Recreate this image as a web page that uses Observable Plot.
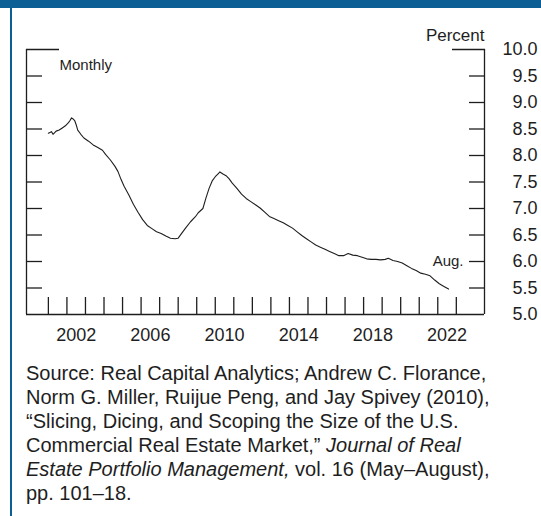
<!DOCTYPE html>
<html><head><meta charset="utf-8">
<script src="https://cdn.jsdelivr.net/npm/d3@7"></script>
<script src="https://cdn.jsdelivr.net/npm/@observablehq/plot@0.6"></script>
<style>
html,body{margin:0;padding:0;background:#fff;}
#wrap{position:relative;width:541px;height:516px;overflow:hidden;font-family:"Liberation Sans",Arial,sans-serif;}
#topbar{position:absolute;left:0;top:0;width:541px;height:8px;background:#0b5f94;}
#leftbar{position:absolute;left:10px;top:0;width:2px;height:516px;background:#0b5f94;}
#chart{position:absolute;left:0;top:0;}
#caption{position:absolute;left:26px;top:361px;font-size:20px;line-height:24px;color:#1e1e1e;white-space:nowrap;}
</style></head>
<body><div id="wrap"><div id="topbar"></div><div id="leftbar"></div><div id="chart"></div>
<div id="caption">Source: Real Capital Analytics; Andrew C. Florance,<br>Norm G. Miller, Ruijue Peng, and Jay Spivey (2010),<br>“Slicing, Dicing, and Scoping the Size of the U.S.<br>Commercial Real Estate Market,” <i>Journal of Real<br>Estate Portfolio Management,</i> vol. 16 (May–August),<br>pp. 101–18.</div></div>
<script>
const months = ["2001-01","2001-03","2001-04","2001-06","2001-08","2001-10","2001-12","2002-02","2002-03","2002-04","2002-05","2002-06","2002-07","2002-08","2002-10","2002-12",
"2003-03","2003-06","2003-09","2003-12","2004-02","2004-05","2004-08","2004-10","2004-12","2005-02","2005-05","2005-08","2005-11",
"2006-02","2006-05","2006-08","2006-11","2007-02","2007-05","2007-08","2007-11","2008-01","2008-03","2008-06","2008-09","2008-12",
"2009-02","2009-05","2009-07","2009-09","2009-11","2010-01","2010-03","2010-04","2010-06","2010-08","2010-10","2010-12",
"2011-03","2011-06","2011-09","2011-12","2012-03","2012-06","2012-09","2012-12","2013-03","2013-06","2013-09","2013-12",
"2014-03","2014-06","2014-09","2014-12","2015-03","2015-06","2015-09","2015-12","2016-03","2016-06","2016-09","2016-12",
"2017-03","2017-06","2017-09","2017-12","2018-03","2018-06","2018-09","2018-12","2019-03","2019-05","2019-08","2019-11",
"2020-02","2020-05","2020-08","2020-11","2021-02","2021-05","2021-08","2021-11","2022-02","2022-05","2022-08"];
const values = [8.42,8.45,8.40,8.46,8.48,8.52,8.56,8.62,8.66,8.71,8.69,8.66,8.58,8.48,8.40,8.33,
8.27,8.20,8.15,8.10,8.02,7.92,7.80,7.70,7.55,7.42,7.26,7.08,6.93,
6.79,6.68,6.62,6.56,6.53,6.48,6.44,6.43,6.44,6.52,6.64,6.75,6.84,
6.92,7.00,7.20,7.38,7.52,7.60,7.66,7.69,7.65,7.62,7.56,7.48,
7.38,7.27,7.19,7.13,7.07,7.01,6.93,6.85,6.81,6.77,6.73,6.68,
6.63,6.56,6.49,6.43,6.37,6.31,6.27,6.23,6.19,6.15,6.11,6.11,
6.15,6.12,6.11,6.08,6.05,6.04,6.04,6.03,6.04,6.06,6.02,6.00,
5.97,5.92,5.87,5.83,5.78,5.76,5.73,5.65,5.58,5.53,5.48];
const xDomain = [1999.82, 2024.52];
const yDomain = [5, 10];
const yearTicks = [2001,2002,2003,2004,2005,2006,2007,2008,2009,2010,2011,2012,2013,2014,2015,2016,2017,2018,2019,2020,2021,2022,2023];
const yearLabels = [2002,2006,2010,2014,2018,2022];
const yTicks = [5.5,6.0,6.5,7.0,7.5,8.0,8.5,9.0,9.5];
const yTop = [10.0];
const yLabels = [5.0,5.5,6.0,6.5,7.0,7.5,8.0,8.5,9.0,9.5,10.0];
const unitLabel = ["Percent"];
const freqLabel = ["Monthly"];
const endNote = [{label:"Aug.", v:6.0}];

const data = months.map((m,i)=>({t: +m.slice(0,4) + (+m.slice(5,7)-1)/12, v: values[i]}));
const ink = "#1e1e1e";
const noText = () => null;
const chart = Plot.plot({
  width:541, height:350, marginLeft:26, marginRight:57, marginTop:49, marginBottom:36,
  style:{fontFamily:'"Liberation Sans",Arial,sans-serif', fontSize:"18px", color:ink, background:"transparent", overflow:"visible"},
  x:{domain:xDomain, axis:null},
  y:{domain:yDomain, axis:null},
  marks:[
    Plot.ruleX(xDomain, {stroke:ink, strokeWidth:1.3}),
    Plot.ruleY([yDomain[0]], {stroke:ink, strokeWidth:1.3}),
    Plot.axisY(yTicks, {anchor:"left", tickSize:16, insetLeft:16, tickFormat:noText, label:null, stroke:ink, strokeWidth:1.3}),
    Plot.axisY(yTicks, {anchor:"right", tickSize:16, insetRight:16, tickFormat:noText, label:null, stroke:ink, strokeWidth:1.3}),
    Plot.axisY(yTop, {anchor:"left", tickSize:33, insetLeft:33, tickFormat:noText, label:null, stroke:ink, strokeWidth:1.3}),
    Plot.axisY(yTop, {anchor:"right", tickSize:33, insetRight:33, tickFormat:noText, label:null, stroke:ink, strokeWidth:1.3}),
    Plot.axisY(yLabels, {anchor:"right", tickSize:0, tickPadding:53, textAnchor:"end", tickFormat:d=>d.toFixed(1), label:null, fill:ink}),
    Plot.axisX(yearTicks, {anchor:"bottom", tickSize:17, insetBottom:17, tickFormat:noText, label:null, stroke:ink, strokeWidth:1.3}),
    Plot.axisX(yearLabels.map(y=>y+0.5), {anchor:"bottom", tickSize:0, tickPadding:21, lineAnchor:"middle", tickFormat:d=>String(Math.floor(d)), label:null, fill:ink}),
    Plot.line(data, {x:"t", y:"v", stroke:ink, strokeWidth:1.1}),
    Plot.text(unitLabel, {frameAnchor:"top-right", textAnchor:"end", lineAnchor:"middle", dy:-14, fontSize:17, fill:ink}),
    Plot.text(freqLabel, {frameAnchor:"top-left", textAnchor:"start", lineAnchor:"middle", dx:33, dy:16, fontSize:15, fill:ink}),
    Plot.text(endNote, {y:"v", text:"label", frameAnchor:"right", textAnchor:"end", lineAnchor:"middle", dx:-21, fontSize:15, fill:ink})
  ]
});
document.getElementById("chart").appendChild(chart);
</script>
</body></html>
